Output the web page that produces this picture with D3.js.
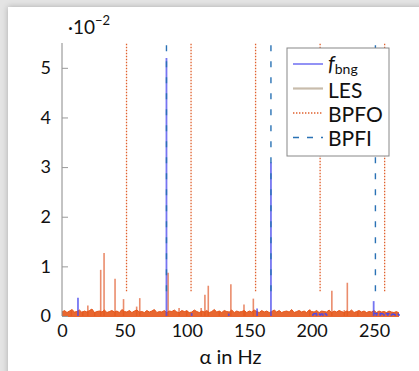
<!DOCTYPE html>
<html>
<head>
<meta charset="utf-8">
<script src="https://cdn.jsdelivr.net/npm/d3@7"></script>
<style>
  body { margin: 0; background: #e4e4e4; width: 419px; height: 371px; overflow: hidden; position: relative; }
  .card { position: absolute; left: 8px; top: 7px; width: 420px; height: 380px; background: #fff; box-shadow: 0 0 6px rgba(0,0,0,0.25); }
  svg { position: absolute; left: 0; top: 0; }
  text { font-family: Lato, "Open Sans", sans-serif; fill: #111; }
</style>
</head>
<body>
<div class="card"></div>
<svg id="chart" width="419" height="371"></svg>
<script>
// spectrum peaks (alpha in Hz, amplitude x 1e-2)
const lesFreq = [7.5, 16.6, 20.7, 26.2, 31, 33.7, 42.5, 49.3, 59.8, 62.3, 85, 93.8, 99.9, 111.5, 114.5, 117.2, 126, 135.3, 145.8, 146.5, 153.3, 198.5, 216.2, 226.2, 228.6, 237];
const lesAmp  = [0.10, 0.10, 0.21, 0.08, 0.93, 1.27, 0.75, 0.34, 0.19, 0.36, 0.87, 0.16, 0.12, 0.16, 0.43, 0.61, 0.10, 0.64, 0.23, 0.10, 0.35, 0.13, 0.51, 0.12, 0.67, 0.09];

const fbngFreq = [12.8, 83.7, 103.9, 133.6, 156.3, 167.4, 201, 204, 207, 209, 212, 249.7, 252, 255, 258, 261, 264, 267, 270];
const fbngAmp  = [0.37, 5.2, 0.06, 0.05, 0.15, 3.1, 0.04, 0.05, 0.03, 0.05, 0.04, 0.30, 0.06, 0.05, 0.04, 0.05, 0.04, 0.03, 0.04];

// noise floor, every 2 Hz from 0 to 270
const floorAmp = [0.08, 0.11, 0.07, 0.10, 0.13, 0.08, 0.09, 0.12, 0.07, 0.10, 0.08, 0.11, 0.14, 0.07, 0.09, 0.10, 0.08, 0.12, 0.07, 0.09,
                  0.11, 0.08, 0.10, 0.07, 0.13, 0.09, 0.08, 0.11, 0.07, 0.10, 0.12, 0.08, 0.09, 0.07, 0.11, 0.08, 0.10, 0.13, 0.07, 0.09,
                  0.08, 0.11, 0.07, 0.10, 0.09, 0.12, 0.08, 0.07, 0.11, 0.09, 0.10, 0.07, 0.08, 0.12, 0.09, 0.07, 0.10, 0.08, 0.11, 0.07,
                  0.09, 0.13, 0.08, 0.10, 0.07, 0.11, 0.09, 0.08, 0.12, 0.07, 0.10, 0.08, 0.09, 0.11, 0.07, 0.10, 0.08, 0.12, 0.09, 0.07,
                  0.11, 0.08, 0.10, 0.07, 0.09, 0.12, 0.08, 0.11, 0.07, 0.09, 0.10, 0.08, 0.13, 0.07, 0.09, 0.11, 0.08, 0.10, 0.07, 0.12,
                  0.09, 0.08, 0.11, 0.07, 0.10, 0.09, 0.08, 0.12, 0.07, 0.10, 0.08, 0.11, 0.09, 0.07, 0.10, 0.08, 0.12, 0.07, 0.09, 0.11,
                  0.08, 0.10, 0.07, 0.09, 0.08, 0.11, 0.07, 0.10, 0.08, 0.09, 0.07, 0.10, 0.08, 0.07, 0.09, 0.06];

const bpfo = [51.7, 103.4, 155.1, 206.8, 258.5];
const bpfi = [83.7, 167.4, 251.1];

const xTicks = [0, 50, 100, 150, 200, 250];
const yTicks = [0, 1, 2, 3, 4, 5];
const legendLabels = ["LES", "BPFO", "BPFI"];

const svg = d3.select("#chart");
const x = d3.scaleLinear().domain([0, 270]).range([62, 399]);
const y = d3.scaleLinear().domain([0, 5.5]).range([316, 43]);

const colBlue = "#4848ee", colLes = "#ea8c6c", colFloor = "#e5561a";
const colBpfo = "#e0602c", colBpfi = "#2a72b5";

// marker lines
const markers = svg.append("g");
markers.selectAll(".bpfo").data(bpfo).enter().append("line")
  .attr("x1", d => x(d)).attr("x2", d => x(d))
  .attr("y1", y(0.5)).attr("y2", y(5.5))
  .attr("stroke", colBpfo).attr("stroke-width", 1.3)
  .attr("stroke-dasharray", "1.4,1.6");

// LES peaks
svg.append("g").selectAll("line").data(lesFreq).enter().append("line")
  .attr("x1", d => x(d)).attr("x2", d => x(d))
  .attr("y1", y(0)).attr("y2", (d, i) => y(lesAmp[i]))
  .attr("stroke", colLes).attr("stroke-width", 1.6);

// noise floor
const floorPts = floorAmp.map((v, i) => [i * 2, v]);
svg.append("path").datum(floorPts)
  .attr("d", d3.area().x(d => x(d[0])).y0(y(0) + 1).y1(d => y(d[1])))
  .attr("fill", colFloor).attr("opacity", 0.9);
svg.append("path").datum(floorPts)
  .attr("d", d3.line().x(d => x(d[0])).y(d => y(d[1])))
  .attr("fill", "none").attr("stroke", colFloor).attr("stroke-width", 1);

// fbng
const fb = fbngFreq.map((f, i) => [f, fbngAmp[i]]);
svg.append("g").selectAll("line").data(fb).enter().append("line")
  .attr("x1", d => x(d[0])).attr("x2", d => x(d[0]))
  .attr("y1", y(0)).attr("y2", d => y(d[1]))
  .attr("stroke", colBlue).attr("stroke-width", 1.8).attr("opacity", 0.75);
[fb.filter(d => d[0] > 199 && d[0] < 215), fb.filter(d => d[0] > 249)].forEach(seg => {
  svg.append("path").datum(seg)
    .attr("d", d3.line().x(d => x(d[0])).y(d => y(Math.min(d[1], 0.05))))
    .attr("fill", "none").attr("stroke", colBlue).attr("stroke-width", 1.5)
    .attr("stroke-dasharray", "4,2");
});

markers.raise();
svg.append("g").selectAll("line").data(bpfi).enter().append("line")
  .attr("x1", d => x(d)).attr("x2", d => x(d))
  .attr("y1", y(0.5)).attr("y2", y(5.5))
  .attr("stroke", colBpfi).attr("stroke-width", 1.4)
  .attr("stroke-dasharray", "6,10");

// axes
const gy = svg.append("g").attr("transform", `translate(${x(0)},0)`)
  .call(d3.axisLeft(y).tickValues(yTicks).tickSize(-6).tickPadding(11).tickFormat(d3.format("d")));
gy.select(".domain").attr("stroke", "#888").attr("d", `M0,${y(0)}V${y(5.5)}`);
gy.selectAll(".tick line").attr("stroke", "#999");
gy.selectAll("text").style("font-size", "18px").style("font-family", "Lato").attr("fill", "#111");

const gx = svg.append("g").attr("transform", `translate(0,${y(0)})`)
  .call(d3.axisBottom(x).tickValues(xTicks).tickSize(0).tickPadding(8));
gx.select(".domain").remove();
gx.selectAll("text").style("font-size", "18px").style("font-family", "Lato").attr("fill", "#111");

// scale factor
const sf = svg.append("text").attr("x", 68).attr("y", 34).style("font-size", "19px");
sf.append("tspan").text("·10");
sf.append("tspan").attr("dy", -9).style("font-size", "13px").text("−2");

svg.append("text").attr("x", x(135)).attr("y", 364).attr("text-anchor", "middle")
  .style("font-size", "20px").text("α in Hz");

// legend
const lg = svg.append("g").attr("transform", "translate(287,48)");
lg.append("rect").attr("width", 102).attr("height", 108)
  .attr("fill", "#fff").attr("stroke", "#888").attr("stroke-width", 1);
const rows = [
  { c: colBlue, w: 1.2, dash: null },
  { c: "#c8bcac", w: 2.2, dash: null },
  { c: colBpfo, w: 1.3, dash: "1.4,1.6" },
  { c: colBpfi, w: 1.4, dash: "6,8" }
];
rows.forEach((r, i) => {
  const yy = 16 + i * 24.5;
  lg.append("line").attr("x1", 6).attr("x2", 36).attr("y1", yy).attr("y2", yy)
    .attr("stroke", r.c).attr("stroke-width", r.w).attr("stroke-dasharray", r.dash);
});
const t0 = lg.append("text").attr("x", 41).attr("y", 23).style("font-size", "21px");
t0.append("tspan").style("font-style", "italic").text("f");
t0.append("tspan").attr("dy", 3).style("font-size", "14px").text("bng");
legendLabels.forEach((l, i) => {
  lg.append("text").attr("x", 41).attr("y", 50 + i * 24).style("font-size", "21px").text(l);
});
</script>
</body>
</html>
